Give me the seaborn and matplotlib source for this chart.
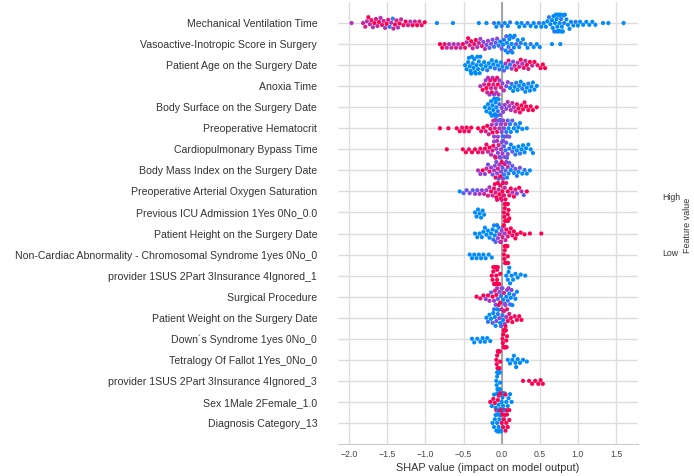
import numpy as np
import pandas as pd
import matplotlib
matplotlib.use("Agg")
import matplotlib.pyplot as plt
from matplotlib.colors import LinearSegmentedColormap
import seaborn as sns

# feature names, top to bottom
features = [
    "Mechanical Ventilation Time",
    "Vasoactive-Inotropic Score in Surgery",
    "Patient Age on the Surgery Date",
    "Anoxia Time",
    "Body Surface on the Surgery Date",
    "Preoperative Hematocrit",
    "Cardiopulmonary Bypass Time",
    "Body Mass Index on the Surgery Date",
    "Preoperative Arterial Oxygen Saturation",
    "Previous ICU Admission 1Yes 0No_0.0",
    "Patient Height on the Surgery Date",
    "Non-Cardiac Abnormality - Chromosomal Syndrome 1yes 0No_0",
    "provider 1SUS 2Part 3Insurance 4Ignored_1",
    "Surgical Procedure",
    "Patient Weight on the Surgery Date",
    "Down\u00b4s Syndrome 1yes 0No_0",
    "Tetralogy Of Fallot 1Yes_0No_0",
    "provider 1SUS 2Part 3Insurance 4Ignored_3",
    "Sex 1Male 2Female_1.0",
    "Diagnosis Category_13",
]

# SHAP values and (scaled) feature values
mvt_shap = [
    -1.97, -1.82, -1.79, -1.77, -1.75, -1.73, -1.71, -1.69, -1.67, -1.65,
    -1.63, -1.61, -1.59, -1.57, -1.55, -1.53, -1.51, -1.49, -1.47, -1.45,
    -1.43, -1.42, -1.40, -1.38, -1.36, -1.34, -1.32, -1.29, -1.26, -1.23,
    -1.20, -1.17, -1.14, -1.11, -1.08, -1.05, -1.01, -0.85, -0.64, -0.30,
    -0.20, -0.10, -0.07, -0.04, 0.00, 0.04, 0.08, 0.11, 0.20, 0.23,
    0.26, 0.30, 0.34, 0.38, 0.42, 0.45, 0.49, 0.52, 0.55, 0.58,
    0.60, 0.62, 0.64, 0.66, 0.67, 0.68, 0.69, 0.70, 0.71, 0.72,
    0.72, 0.73, 0.74, 0.74, 0.75, 0.75, 0.76, 0.76, 0.77, 0.78,
    0.78, 0.79, 0.80, 0.80, 0.81, 0.82, 0.83, 0.85, 0.87, 0.89,
    0.91, 0.94, 0.97, 1.00, 1.03, 1.07, 1.11, 1.15, 1.19, 1.23,
    1.33, 1.40, 1.60,
]
mvt_value = [
    0.6, 0.7, 0.8, 0.6, 1.0, 0.7, 0.9, 0.6, 1.0, 0.8,
    0.7, 1.0, 0.6, 0.9, 0.7, 0.6, 1.0, 0.8, 0.1, 0.6,
    0.1, 0.7, 1.0, 0.8, 0.6, 1.0, 0.7, 0.9, 1.0, 0.8,
    0.6, 1.0, 0.7, 1.0, 0.8, 0.9, 1.0, 0.0, 0.0, 0.0,
    0.0, 0.1, 0.0, 0.0, 0.1, 0.0, 0.0, 0.1, 0.0, 0.0,
    0.0, 0.0, 0.1, 0.0, 0.0, 0.0, 0.1, 0.0, 0.0, 0.0,
    0.0, 0.1, 0.0, 0.0, 0.0, 0.0, 0.1, 0.0, 0.0, 0.0,
    0.0, 0.0, 0.0, 0.1, 0.0, 0.0, 0.0, 0.0, 0.0, 0.1,
    0.0, 0.0, 0.0, 0.0, 0.0, 0.1, 0.0, 0.0, 0.0, 0.0,
    0.0, 0.0, 0.1, 0.0, 0.0, 0.0, 0.0, 0.0, 0.0, 0.0,
    0.0, 0.0, 0.0,
]

vis_shap = [
    -0.81, -0.78, -0.75, -0.72, -0.69, -0.66, -0.63, -0.60, -0.57, -0.54,
    -0.51, -0.48, -0.46, -0.44, -0.42, -0.40, -0.38, -0.36, -0.34, -0.32,
    -0.30, -0.28, -0.26, -0.24, -0.22, -0.20, -0.18, -0.16, -0.14, -0.12,
    -0.10, -0.08, -0.06, -0.04, -0.02, 0.00, 0.02, 0.03, 0.05, 0.06,
    0.07, 0.08, 0.09, 0.10, 0.11, 0.12, 0.13, 0.14, 0.15, 0.16,
    0.17, 0.19, 0.21, 0.23, 0.25, 0.28, 0.31, 0.34, 0.38, 0.42,
    0.46, 0.50, 0.66, 0.77,
]
vis_value = [
    1.0, 1.0, 0.9, 0.7, 0.6, 0.7, 0.6, 0.8, 0.6, 0.7,
    1.0, 0.9, 0.6, 1.0, 0.8, 1.0, 0.7, 0.9, 1.0, 0.6,
    0.7, 0.5, 0.8, 0.4, 0.6, 0.3, 0.5, 0.2, 0.4, 0.3,
    0.1, 0.2, 0.4, 0.1, 0.0, 0.3, 0.0, 0.1, 0.0, 0.2,
    0.0, 0.0, 0.1, 0.0, 0.0, 0.3, 0.0, 0.0, 0.1, 0.0,
    0.0, 0.2, 0.0, 0.0, 0.1, 0.0, 0.0, 0.0, 0.1, 0.0,
    0.0, 0.0, 0.0, 0.0,
]

age_shap = [
    -0.48, -0.46, -0.44, -0.43, -0.42, -0.41, -0.40, -0.39, -0.38, -0.37,
    -0.36, -0.35, -0.34, -0.33, -0.32, -0.31, -0.30, -0.29, -0.28, -0.27,
    -0.25, -0.23, -0.21, -0.19, -0.17, -0.15, -0.13, -0.11, -0.09, -0.07,
    -0.05, -0.03, -0.01, 0.01, 0.03, 0.05, 0.07, 0.09, 0.11, 0.13,
    0.15, 0.17, 0.19, 0.21, 0.23, 0.25, 0.27, 0.29, 0.31, 0.33,
    0.35, 0.37, 0.40, 0.43, 0.47, 0.51, 0.54, 0.57,
]
age_value = [
    0.0, 0.0, 0.0, 0.0, 0.0, 0.0, 0.0, 0.0, 0.0, 0.0,
    0.0, 0.0, 0.0, 0.0, 0.0, 0.0, 0.0, 0.0, 0.0, 0.0,
    0.0, 0.0, 0.0, 0.1, 0.0, 0.0, 0.0, 0.0, 0.1, 0.0,
    0.0, 0.1, 0.0, 0.0, 0.2, 0.6, 0.0, 0.8, 0.1, 0.5,
    0.3, 0.7, 1.0, 0.6, 0.8, 1.0, 0.6, 0.9, 0.7, 1.0,
    0.8, 1.0, 0.7, 1.0, 0.9, 1.0, 1.0, 1.0,
]

anox_shap = [
    -0.28, -0.25, -0.23, -0.21, -0.20, -0.19, -0.18, -0.17, -0.16, -0.15,
    -0.14, -0.13, -0.12, -0.11, -0.10, -0.09, -0.08, -0.07, -0.06, -0.05,
    -0.04, -0.03, -0.01, 0.01, 0.03, 0.06, 0.08, 0.11, 0.13, 0.15,
    0.17, 0.19, 0.21, 0.23, 0.25, 0.27, 0.29, 0.31, 0.33, 0.35,
    0.37, 0.39, 0.41, 0.43, 0.46,
]
anox_value = [
    0.6, 1.0, 0.7, 0.5, 1.0, 0.8, 0.6, 1.0, 0.5, 0.9,
    0.7, 1.0, 0.6, 0.8, 0.5, 1.0, 0.7, 0.6, 0.9, 1.0,
    0.6, 0.5, 0.8, 0.4, 0.6, 0.3, 0.5, 0.0, 0.1, 0.0,
    0.0, 0.1, 0.0, 0.0, 0.0, 0.1, 0.0, 0.0, 0.0, 0.1,
    0.0, 0.0, 0.0, 0.0, 0.0,
]

bsa_shap = [
    -0.22, -0.20, -0.18, -0.16, -0.15, -0.14, -0.13, -0.12, -0.11, -0.10,
    -0.09, -0.09, -0.08, -0.08, -0.07, -0.07, -0.06, -0.06, -0.05, -0.04,
    -0.03, -0.02, 0.00, 0.02, 0.04, 0.06, 0.08, 0.10, 0.12, 0.14,
    0.16, 0.18, 0.20, 0.22, 0.24, 0.26, 0.28, 0.30, 0.32, 0.35,
    0.38, 0.41, 0.46,
]
bsa_value = [
    0.0, 0.0, 0.0, 0.0, 0.0, 0.0, 0.0, 0.0, 0.0, 0.0,
    0.0, 0.0, 0.0, 0.0, 0.0, 0.1, 0.0, 0.0, 0.1, 0.0,
    0.2, 0.3, 0.4, 0.5, 0.5, 0.4, 0.6, 0.5, 0.6, 0.7,
    0.6, 0.8, 0.9, 1.0, 0.9, 1.0, 1.0, 0.9, 1.0, 1.0,
    1.0, 1.0, 1.0,
]

hct_shap = [
    -0.81, -0.70, -0.59, -0.55, -0.52, -0.49, -0.46, -0.43, -0.40, -0.31,
    -0.27, -0.24, -0.21, -0.19, -0.17, -0.15, -0.13, -0.12, -0.11, -0.10,
    -0.09, -0.08, -0.07, -0.06, -0.05, -0.04, -0.03, -0.02, -0.01, 0.00,
    0.01, 0.02, 0.03, 0.04, 0.05, 0.06, 0.07, 0.08, 0.09, 0.10,
    0.11, 0.12, 0.14, 0.16, 0.18, 0.20, 0.22, 0.24, 0.27, 0.33,
]
hct_value = [
    1.0, 1.0, 1.0, 1.0, 0.9, 1.0, 1.0, 0.9, 1.0, 1.0,
    0.9, 1.0, 0.8, 1.0, 0.7, 0.9, 0.6, 1.0, 0.7, 0.5,
    0.8, 0.6, 0.4, 0.9, 0.5, 0.3, 0.6, 0.2, 0.5, 0.4,
    0.1, 0.5, 0.3, 0.2, 0.6, 0.1, 0.4, 0.2, 0.0, 0.3,
    0.1, 0.0, 0.2, 0.0, 0.1, 0.0, 0.0, 0.0, 0.0, 0.0,
]

cpb_shap = [
    -0.72, -0.51, -0.47, -0.43, -0.39, -0.35, -0.31, -0.28, -0.25, -0.22,
    -0.20, -0.18, -0.16, -0.14, -0.12, -0.11, -0.10, -0.09, -0.08, -0.07,
    -0.06, -0.05, -0.04, -0.03, -0.02, -0.01, 0.00, 0.01, 0.02, 0.03,
    0.04, 0.05, 0.06, 0.07, 0.08, 0.10, 0.12, 0.14, 0.16, 0.18,
    0.20, 0.22, 0.24, 0.26, 0.28, 0.30, 0.32, 0.35, 0.38, 0.41,
]
cpb_value = [
    1.0, 1.0, 1.0, 0.9, 1.0, 1.0, 0.9, 1.0, 0.8, 1.0,
    0.9, 0.7, 1.0, 0.6, 0.8, 1.0, 0.5, 0.7, 0.9, 0.5,
    0.6, 0.4, 0.8, 0.5, 0.3, 0.6, 0.4, 0.5, 0.3, 0.2,
    0.5, 0.1, 0.3, 0.2, 0.4, 0.1, 0.0, 0.2, 0.0, 0.1,
    0.0, 0.0, 0.1, 0.0, 0.0, 0.0, 0.0, 0.0, 0.0, 0.0,
]

bmi_shap = [
    -0.31, -0.28, -0.25, -0.22, -0.20, -0.18, -0.16, -0.14, -0.12, -0.10,
    -0.09, -0.08, -0.07, -0.06, -0.05, -0.04, -0.03, -0.02, -0.01, 0.00,
    0.01, 0.02, 0.03, 0.04, 0.05, 0.06, 0.07, 0.08, 0.09, 0.10,
    0.12, 0.14, 0.16, 0.18, 0.20, 0.22, 0.24, 0.27, 0.30, 0.33,
    0.37,
]
bmi_value = [
    0.6, 0.5, 1.0, 0.4, 0.7, 0.3, 0.9, 0.5, 0.2, 0.6,
    0.4, 1.0, 0.3, 0.5, 0.8, 0.2, 0.6, 1.0, 0.4, 1.0,
    0.3, 0.5, 0.1, 0.9, 0.2, 0.4, 0.0, 0.6, 0.1, 0.3,
    0.0, 0.2, 0.0, 0.4, 0.1, 0.0, 0.3, 0.0, 0.1, 0.0,
    0.0,
]

sat_shap = [
    -0.55, -0.50, -0.46, -0.42, -0.38, -0.35, -0.32, -0.29, -0.26, -0.23,
    -0.20, -0.18, -0.16, -0.14, -0.12, -0.10, -0.09, -0.08, -0.07, -0.06,
    -0.05, -0.04, -0.03, -0.02, -0.01, 0.00, 0.01, 0.02, 0.03, 0.04,
    0.05, 0.06, 0.08, 0.10, 0.12, 0.14, 0.16, 0.18, 0.20, 0.23,
    0.26, 0.29, 0.33,
]
sat_value = [
    0.0, 0.2, 0.3, 0.4, 0.2, 0.5, 0.3, 0.6, 0.4, 0.7,
    0.5, 0.8, 0.6, 1.0, 0.7, 0.9, 1.0, 0.8, 1.0, 0.9,
    1.0, 0.7, 1.0, 0.9, 1.0, 0.8, 1.0, 1.0, 0.9, 0.7,
    1.0, 0.8, 1.0, 0.9, 1.0, 0.6, 1.0, 0.8, 0.4, 1.0,
    0.7, 0.2, 1.0,
]

icu_shap = [
    -0.35, -0.33, -0.31, -0.29, -0.27, -0.25, -0.23, 0.030, 0.035, 0.040,
    0.040, 0.045, 0.050, 0.050, 0.050, 0.055, 0.055, 0.060, 0.060, 0.060,
    0.060, 0.065, 0.065, 0.070, 0.070, 0.070, 0.075, 0.075, 0.080, 0.080,
    0.085, 0.090, 0.100,
]
icu_value = [
    0.0, 0.0, 0.0, 0.0, 0.0, 0.0, 0.0, 1.0, 1.0, 1.0,
    1.0, 1.0, 1.0, 1.0, 1.0, 1.0, 1.0, 1.0, 1.0, 1.0,
    1.0, 1.0, 1.0, 1.0, 1.0, 1.0, 1.0, 1.0, 1.0, 1.0,
    1.0, 1.0, 1.0,
]

ht_shap = [
    -0.35, -0.32, -0.29, -0.26, -0.24, -0.22, -0.20, -0.18, -0.16, -0.14,
    -0.12, -0.11, -0.10, -0.09, -0.08, -0.07, -0.06, -0.05, -0.04, -0.03,
    -0.02, -0.01, 0.00, 0.01, 0.02, 0.03, 0.04, 0.05, 0.06, 0.08,
    0.10, 0.12, 0.14, 0.16, 0.18, 0.20, 0.25, 0.30, 0.37, 0.52,
]
ht_value = [
    0.0, 0.0, 0.0, 0.0, 0.0, 0.0, 0.0, 0.0, 0.0, 0.0,
    0.0, 0.1, 0.0, 0.0, 0.2, 0.0, 0.1, 0.5, 0.0, 0.6,
    0.4, 0.7, 0.5, 0.8, 0.6, 1.0, 0.5, 0.7, 1.0, 0.8,
    1.0, 1.0, 0.9, 1.0, 1.0, 1.0, 1.0, 1.0, 1.0, 1.0,
]

chr_shap = [
    -0.42, -0.39, -0.36, -0.33, -0.30, -0.27, -0.24, -0.21, -0.17, -0.13,
    0.030, 0.035, 0.040, 0.040, 0.045, 0.050, 0.050, 0.050, 0.055, 0.055,
    0.060, 0.060, 0.060, 0.065, 0.065, 0.070, 0.070, 0.075, 0.080, 0.085,
]
chr_value = [
    0.0, 0.0, 0.0, 0.0, 0.0, 0.0, 0.0, 0.0, 0.0, 0.0,
    1.0, 1.0, 1.0, 1.0, 1.0, 1.0, 1.0, 1.0, 1.0, 1.0,
    1.0, 1.0, 1.0, 1.0, 1.0, 1.0, 1.0, 1.0, 1.0, 1.0,
]

p1_shap = [
    -0.13, -0.12, -0.11, -0.11, -0.10, -0.10, -0.09, -0.09, -0.09, -0.08,
    -0.08, -0.08, -0.07, -0.07, -0.07, -0.06, -0.06, -0.05, -0.05, -0.04,
    -0.03, -0.02, 0.06, 0.08, 0.09, 0.10, 0.11, 0.13, 0.15, 0.18,
    0.21, 0.25, 0.31,
]
p1_value = [
    1.0, 1.0, 1.0, 1.0, 1.0, 1.0, 1.0, 1.0, 1.0, 1.0,
    1.0, 1.0, 1.0, 1.0, 1.0, 1.0, 1.0, 1.0, 1.0, 1.0,
    1.0, 1.0, 0.0, 0.0, 0.0, 0.0, 0.0, 0.0, 0.0, 0.0,
    0.0, 0.0, 0.0,
]

surg_shap = [
    -0.33, -0.28, -0.24, -0.21, -0.18, -0.16, -0.14, -0.12, -0.10, -0.09,
    -0.08, -0.07, -0.06, -0.05, -0.04, -0.03, -0.02, -0.01, 0.00, 0.01,
    0.02, 0.03, 0.04, 0.05, 0.06, 0.07, 0.08, 0.09, 0.10, 0.11,
    0.12, 0.13, 0.14, 0.16, 0.18, 0.20,
]
surg_value = [
    1.0, 0.9, 1.0, 0.4, 1.0, 0.6, 0.2, 1.0, 0.5, 0.8,
    0.3, 1.0, 0.6, 0.2, 0.9, 0.4, 1.0, 0.1, 0.7, 0.3,
    0.0, 0.8, 0.2, 0.5, 0.0, 0.3, 0.1, 0.6, 0.0, 0.2,
    0.0, 0.4, 0.0, 0.1, 0.0, 0.0,
]

wt_shap = [
    -0.20, -0.18, -0.16, -0.14, -0.12, -0.11, -0.10, -0.09, -0.08, -0.07,
    -0.06, -0.05, -0.04, -0.03, -0.02, -0.01, 0.00, 0.01, 0.02, 0.03,
    0.04, 0.05, 0.06, 0.07, 0.08, 0.10, 0.12, 0.14, 0.17, 0.20,
    0.23, 0.26,
]
wt_value = [
    0.0, 0.1, 0.0, 0.0, 0.2, 0.0, 0.1, 0.0, 0.0, 0.3,
    0.0, 0.1, 0.0, 0.5, 0.0, 0.2, 0.7, 0.1, 0.0, 0.8,
    0.3, 1.0, 0.6, 0.9, 1.0, 0.8, 1.0, 1.0, 0.9, 1.0,
    1.0, 1.0,
]

down_shap = [
    -0.39, -0.36, -0.32, -0.28, -0.25, -0.22, -0.19, -0.15, 0.010, 0.015,
    0.020, 0.025, 0.030, 0.030, 0.035, 0.035, 0.040, 0.040, 0.040, 0.045,
    0.045, 0.050, 0.050, 0.055, 0.060, 0.065, 0.070,
]
down_value = [
    0.0, 0.0, 0.0, 0.0, 0.0, 0.0, 0.0, 0.0, 1.0, 1.0,
    1.0, 1.0, 1.0, 1.0, 1.0, 1.0, 1.0, 1.0, 1.0, 1.0,
    1.0, 1.0, 1.0, 1.0, 1.0, 1.0, 1.0,
]

tof_shap = [
    -0.070, -0.065, -0.060, -0.055, -0.050, -0.050, -0.045, -0.045, -0.040, -0.040,
    -0.040, -0.035, -0.035, -0.030, -0.030, -0.025, -0.020, 0.08, 0.11, 0.14,
    0.16, 0.18, 0.19, 0.21, 0.24, 0.28, 0.33,
]
tof_value = [
    1.0, 1.0, 1.0, 1.0, 1.0, 1.0, 1.0, 1.0, 1.0, 1.0,
    1.0, 1.0, 1.0, 1.0, 1.0, 1.0, 1.0, 0.0, 0.0, 0.0,
    0.0, 0.0, 0.0, 0.0, 0.0, 0.0, 0.0,
]

p3_shap = [
    -0.070, -0.065, -0.060, -0.060, -0.055, -0.050, -0.050, -0.050, -0.045, -0.045,
    -0.040, -0.040, -0.040, -0.035, -0.035, -0.030, -0.030, -0.025, -0.020, -0.020,
    0.28, 0.36, 0.40, 0.44, 0.48, 0.51, 0.54,
]
p3_value = [
    0.0, 0.0, 0.0, 0.0, 0.0, 0.0, 0.0, 0.0, 0.0, 0.0,
    0.0, 0.0, 0.0, 0.0, 0.0, 0.0, 0.0, 0.0, 0.0, 0.0,
    1.0, 1.0, 1.0, 1.0, 1.0, 1.0, 1.0,
]

sex_shap = [
    -0.15, -0.13, -0.11, -0.10, -0.09, -0.08, -0.07, -0.06, -0.05, -0.05,
    -0.04, -0.04, -0.03, -0.03, -0.02, -0.02, -0.01, -0.01, 0.00, 0.00,
    0.01, 0.01, 0.02, 0.02, 0.03, 0.03, 0.04, 0.04, 0.05, 0.05,
    0.06, 0.07, 0.08, 0.09, 0.10, 0.11, 0.13,
]
sex_value = [
    1.0, 0.0, 1.0, 0.0, 1.0, 0.0, 1.0, 0.0, 1.0, 0.0,
    0.0, 1.0, 0.0, 1.0, 0.0, 1.0, 0.0, 1.0, 0.0, 1.0,
    0.0, 1.0, 0.0, 1.0, 0.0, 0.0, 1.0, 0.0, 1.0, 0.0,
    0.0, 1.0, 0.0, 0.0, 1.0, 0.0, 0.0,
]

diag_shap = [
    -0.12, -0.10, -0.09, -0.08, -0.07, -0.06, -0.06, -0.05, -0.05, -0.04,
    -0.04, -0.03, -0.03, -0.02, -0.02, -0.01, -0.01, 0.00, 0.01, 0.02,
    0.03, 0.04, 0.05, 0.06, 0.07, 0.08, 0.10,
]
diag_value = [
    0.0, 0.0, 0.0, 0.0, 0.0, 0.0, 0.0, 0.0, 0.0, 0.0,
    0.0, 0.0, 0.0, 0.0, 0.0, 0.0, 0.0, 1.0, 1.0, 1.0,
    1.0, 1.0, 1.0, 1.0, 1.0, 1.0, 1.0,
]

shap_lists = [mvt_shap, vis_shap, age_shap, anox_shap, bsa_shap, hct_shap,
              cpb_shap, bmi_shap, sat_shap, icu_shap, ht_shap, chr_shap,
              p1_shap, surg_shap, wt_shap, down_shap, tof_shap, p3_shap,
              sex_shap, diag_shap]
value_lists = [mvt_value, vis_value, age_value, anox_value, bsa_value, hct_value,
               cpb_value, bmi_value, sat_value, icu_value, ht_value, chr_value,
               p1_value, surg_value, wt_value, down_value, tof_value, p3_value,
               sex_value, diag_value]

frames = []
for name, s, v in zip(features, shap_lists, value_lists):
    frames.append(pd.DataFrame({"feature": name, "shap": s, "value": v}))
df = pd.concat(frames, ignore_index=True)

# red_blue colormap like shap
cmap = LinearSegmentedColormap.from_list(
    "red_blue", ["#008bfb", "#6a55ec", "#9a3fd2", "#d7208f", "#ff0051"])

sns.set_style("whitegrid")
plt.rcParams["font.family"] = ["Liberation Sans", "DejaVu Sans"]

fig = plt.figure(figsize=(6.94, 4.76), dpi=100)
ax = fig.add_axes([338 / 694, 32 / 476, 300 / 694, 442 / 476])

ax.axvline(0, color="#999999", lw=1.2, zorder=0.8)
sns.swarmplot(data=df, x="shap", y="feature", hue="value", order=features,
              palette=cmap, hue_norm=(0, 1), size=3.0, linewidth=0,
              legend=False, orient="h", ax=ax, zorder=2)

ax.set_xlim(-2.148, 1.789)
ax.set_ylim(20, -1)
ax.set_xticks([-2.0, -1.5, -1.0, -0.5, 0.0, 0.5, 1.0, 1.5])
ax.grid(True, color="#dddddd", lw=1)
ax.set_ylabel("")
ax.set_xlabel("SHAP value (impact on model output)", fontsize=7.8,
              color="#333333", labelpad=3)
ax.tick_params(axis="y", length=0, pad=15, labelsize=7.6, labelcolor="#333333")
ax.tick_params(axis="x", length=0, pad=4, labelsize=6.3, labelcolor="#444444")
for side in ["left", "top", "right"]:
    ax.spines[side].set_visible(False)
ax.spines["bottom"].set_color("#cccccc")

# colour bar labels (the bar itself is not visible in the original)
fig.text(671 / 694, 1 - 197 / 476, "High", ha="center", va="center",
         fontsize=6.3, color="#333333")
fig.text(670 / 694, 1 - 253 / 476, "Low", ha="center", va="center",
         fontsize=6.3, color="#333333")
fig.text(687 / 694, 1 - 225 / 476, "Feature value", ha="center", va="center",
         rotation=90, fontsize=6.5, color="#333333")

fig.savefig("out.png", dpi=100)
